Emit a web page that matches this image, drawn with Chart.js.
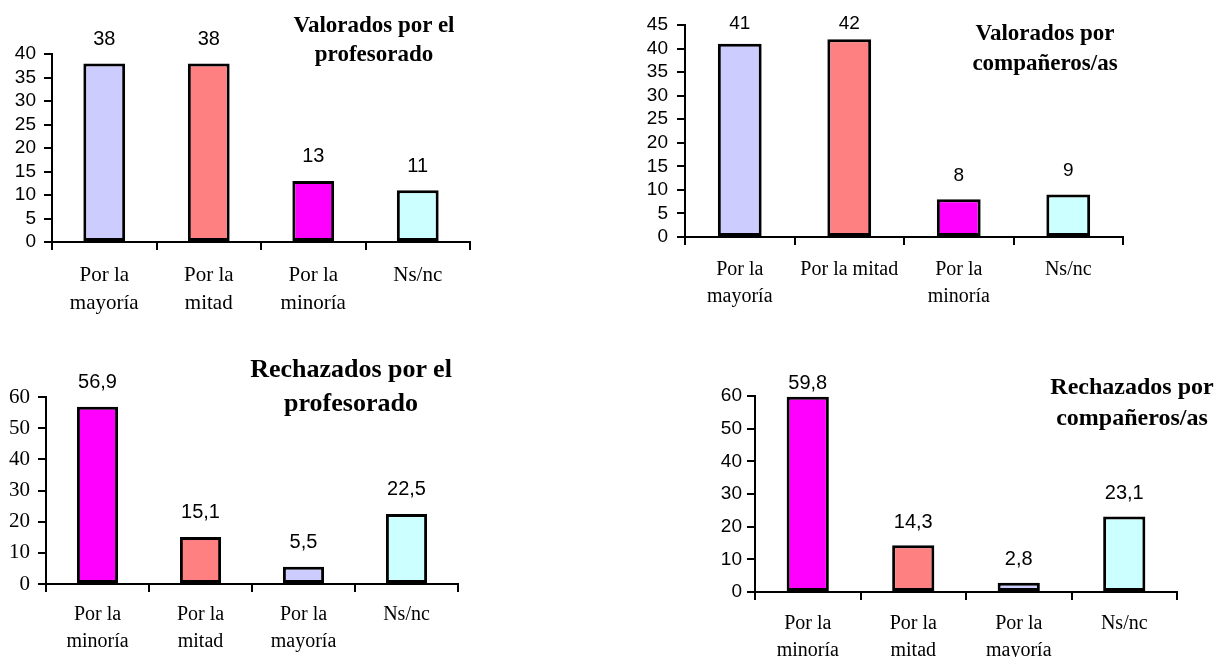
<!DOCTYPE html>
<html>
<head>
<meta charset="utf-8">
<script src="https://cdn.jsdelivr.net/npm/chart.js@4/dist/chart.umd.min.js"></script>
<style>
  html, body { margin: 0; padding: 0; background: #fff; }
  #page { position: relative; width: 1216px; height: 657px; overflow: hidden; }
  #page canvas { position: absolute; left: 0; top: 0; }
  .titulo {
    position: absolute; text-align: center; white-space: nowrap;
    font-family: "Liberation Serif", "Times New Roman", serif; font-weight: bold; color: #000;
  }
</style>
</head>
<body>
<div id="page">
  <canvas id="c1" width="1216" height="657"></canvas>
  <canvas id="c2" width="1216" height="657"></canvas>
  <canvas id="c3" width="1216" height="657"></canvas>
  <canvas id="c4" width="1216" height="657"></canvas>
  <div class="titulo" style="left:254px;top:10px;width:240px;font-size:23px;line-height:29px">Valorados por el<br>profesorado</div>
  <div class="titulo" style="left:925px;top:18px;width:240px;font-size:23px;line-height:30px">Valorados por<br>compañeros/as</div>
  <div class="titulo" style="left:221px;top:352px;width:260px;font-size:26px;line-height:34px">Rechazados por el<br>profesorado</div>
  <div class="titulo" style="left:1012px;top:371px;width:240px;font-size:24px;line-height:31px">Rechazados por<br>compañeros/as</div>
</div>
<script>
// datos de cada gráfico
const catValProf = [["Por la", "mayoría"], ["Por la", "mitad"], ["Por la", "minoría"], "Ns/nc"]
const valValProf = [38, 38, 13, 11]
const colValProf = ["#CCCCFF", "#FF8080", "#FF00FF", "#CCFFFF"]
const ticksValProf = [0, 5, 10, 15, 20, 25, 30, 35, 40]

const catValComp = [["Por la", "mayoría"], "Por la mitad", ["Por la", "minoría"], "Ns/nc"]
const valValComp = [41, 42, 8, 9]
const colValComp = ["#CCCCFF", "#FF8080", "#FF00FF", "#CCFFFF"]
const ticksValComp = [0, 5, 10, 15, 20, 25, 30, 35, 40, 45]

const catRechProf = [["Por la", "minoría"], ["Por la", "mitad"], ["Por la", "mayoría"], "Ns/nc"]
const valRechProf = [56.9, 15.1, 5.5, 22.5]
const colRechProf = ["#FF00FF", "#FF8080", "#CCCCFF", "#CCFFFF"]
const ticksRechProf = [0, 10, 20, 30, 40, 50, 60]

const catRechComp = [["Por la", "minoría"], ["Por la", "mitad"], ["Por la", "mayoría"], "Ns/nc"]
const valRechComp = [59.8, 14.3, 2.8, 23.1]
const colRechComp = ["#FF00FF", "#FF8080", "#CCCCFF", "#CCFFFF"]
const ticksRechComp = [0, 10, 20, 30, 40, 50, 60]

const SANS = "'Liberation Sans', Arial, sans-serif"
const SERIF = "'Liberation Serif', 'Times New Roman', serif"

// etiquetas de valor encima de cada barra
const etiquetas = {
  id: "etiquetas",
  afterDatasetsDraw(chart, args, opts) {
    const ctx = chart.ctx
    const meta = chart.getDatasetMeta(0)
    const data = chart.data.datasets[0].data
    ctx.save()
    ctx.font = opts.size + "px " + SANS
    ctx.fillStyle = "#000"
    ctx.textAlign = "center"
    ctx.textBaseline = "middle"
    meta.data.forEach((bar, i) => {
      const y = Math.max(bar.y - opts.offset, opts.minY)
      ctx.fillText(String(data[i]).replace(".", ","), bar.x, y)
    })
    ctx.restore()
  },
}

function crearGrafico(id, cats, vals, colors, yTicks, lay) {
  const ctx = document.getElementById(id).getContext("2d")
  return new Chart(ctx, {
    type: "bar",
    data: {
      labels: cats,
      datasets: [{
        data: vals,
        backgroundColor: colors,
        borderColor: "#000",
        borderWidth: 3,
        borderSkipped: false,
        barPercentage: 0.4,
        categoryPercentage: 1,
      }],
    },
    options: {
      responsive: false,
      animation: false,
      events: [],
      layout: { padding: { left: 0, top: lay.top, right: 1216 - lay.right, bottom: 0 } },
      plugins: {
        legend: { display: false },
        tooltip: { enabled: false },
        etiquetas: { size: lay.dataSize, offset: lay.dataOffset, minY: lay.minY },
      },
      scales: {
        x: {
          grid: { offset: true, drawOnChartArea: false, color: "#000", lineWidth: 2, tickLength: 8 },
          border: { color: "#000", width: 2 },
          ticks: {
            color: "#000",
            padding: lay.catPad,
            maxRotation: 0,
            autoSkip: false,
            font: { family: SERIF, size: lay.catSize, lineHeight: lay.catLine + "px" },
          },
          afterFit(scale) { scale.height = 657 - lay.bottom },
        },
        y: {
          min: yTicks[0],
          max: yTicks[yTicks.length - 1],
          afterBuildTicks(scale) { scale.ticks = yTicks.map(v => ({ value: v })) },
          grid: { drawOnChartArea: false, color: "#000", lineWidth: 2, tickLength: 8 },
          border: { color: "#000", width: 2 },
          ticks: {
            color: "#000",
            padding: lay.tickPad,
            autoSkip: false,
            font: { family: lay.tickFamily, size: lay.tickSize },
          },
          afterFit(scale) { scale.width = lay.axisX },
        },
      },
    },
    plugins: [etiquetas],
  })
}

crearGrafico("c1", catValProf, valValProf, colValProf, ticksValProf, {
  axisX: 52, top: 54, bottom: 242, right: 470,
  tickFamily: SANS, tickSize: 19, tickPad: 8,
  catSize: 21, catLine: 28, catPad: 11,
  dataSize: 20, dataOffset: 24, minY: 0,
})

crearGrafico("c2", catValComp, valValComp, colValComp, ticksValComp, {
  axisX: 685, top: 25, bottom: 237, right: 1123,
  tickFamily: SANS, tickSize: 19, tickPad: 9,
  catSize: 20, catLine: 27, catPad: 11,
  dataSize: 19, dataOffset: 24, minY: 24,
})

crearGrafico("c3", catRechProf, valRechProf, colRechProf, ticksRechProf, {
  axisX: 46, top: 397, bottom: 584, right: 458,
  tickFamily: SERIF, tickSize: 21, tickPad: 8,
  catSize: 20, catLine: 27, catPad: 9,
  dataSize: 20, dataOffset: 24, minY: 0,
})

crearGrafico("c4", catRechComp, valRechComp, colRechComp, ticksRechComp, {
  axisX: 755, top: 396, bottom: 592, right: 1177,
  tickFamily: SANS, tickSize: 19, tickPad: 5,
  catSize: 20, catLine: 27, catPad: 10,
  dataSize: 20, dataOffset: 23, minY: 383,
})
</script>
</body>
</html>
